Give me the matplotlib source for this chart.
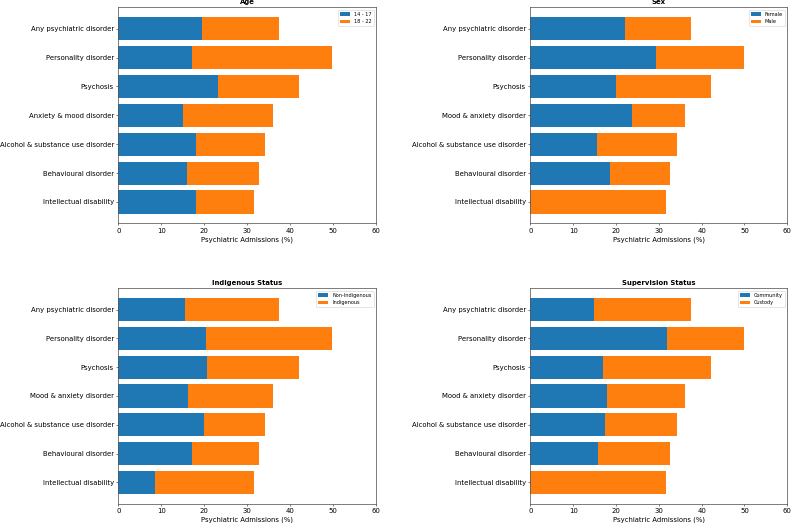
import matplotlib
matplotlib.use("Agg")
import matplotlib.pyplot as plt
import numpy as np

categories_a = ["Any psychiatric disorder", "Personality disorder", "Psychosis",
                "Anxiety & mood disorder", "Alcohol & substance use disorder",
                "Behavioural disorder", "Intellectual disability"]
categories_b = ["Any psychiatric disorder", "Personality disorder", "Psychosis",
                "Mood & anxiety disorder", "Alcohol & substance use disorder",
                "Behavioural disorder", "Intellectual disability"]

totals = [37.4, 49.8, 42.1, 36.1, 34.2, 32.7, 31.6]

age_1417 = [19.4, 17.2, 23.3, 15.1, 18.1, 15.9, 18.1]
sex_female = [22.0, 29.3, 20.1, 23.7, 15.5, 18.6, 0.0]
indig_non = [15.5, 20.4, 20.7, 16.2, 20.0, 17.2, 8.5]
superv_comm = [14.8, 31.9, 17.0, 17.8, 17.4, 15.7, 0.0]

panels = [
    ("Age", categories_a, age_1417, ["14 - 17", "18 - 22"]),
    ("Sex", categories_b, sex_female, ["Female", "Male"]),
    ("Indigenous Status", categories_b, indig_non, ["Non-Indigenous", "Indigenous"]),
    ("Supervision Status", categories_b, superv_comm, ["Community", "Custody"]),
]

DPI = 45
fig = plt.figure(figsize=(792 / DPI, 523 / DPI), dpi=DPI)

positions = [
    [0.1494, 0.573, 0.3254, 0.413],
    [0.6696, 0.573, 0.3245, 0.413],
    [0.1494, 0.0369, 0.3254, 0.4119],
    [0.6696, 0.0369, 0.3245, 0.4119],
]

blue = "#1f77b4"
orange = "#ff7f0e"

for pos, (title, cats, first, labels) in zip(positions, panels):
    ax = fig.add_axes(pos)
    first = np.array(first)
    tot = np.array(totals)
    ax.barh(cats, first, color=blue, label=labels[0])
    ax.barh(cats, tot - first, left=first, color=orange, label=labels[1])
    ax.invert_yaxis()
    ax.set_xlim(0, 60)
    ax.set_xticks(np.arange(0, 61, 10))
    ax.set_xlabel("Psychiatric Admissions (%)", fontsize=11)
    ax.set_title(title, fontweight="bold", fontsize=11)
    ax.tick_params(labelsize=11)
    for s in ax.spines.values():
        s.set_linewidth(1.2)
        s.set_color("#555555")
    ax.legend(loc="upper right", fontsize=8)

fig.savefig("out.png", dpi=DPI)
